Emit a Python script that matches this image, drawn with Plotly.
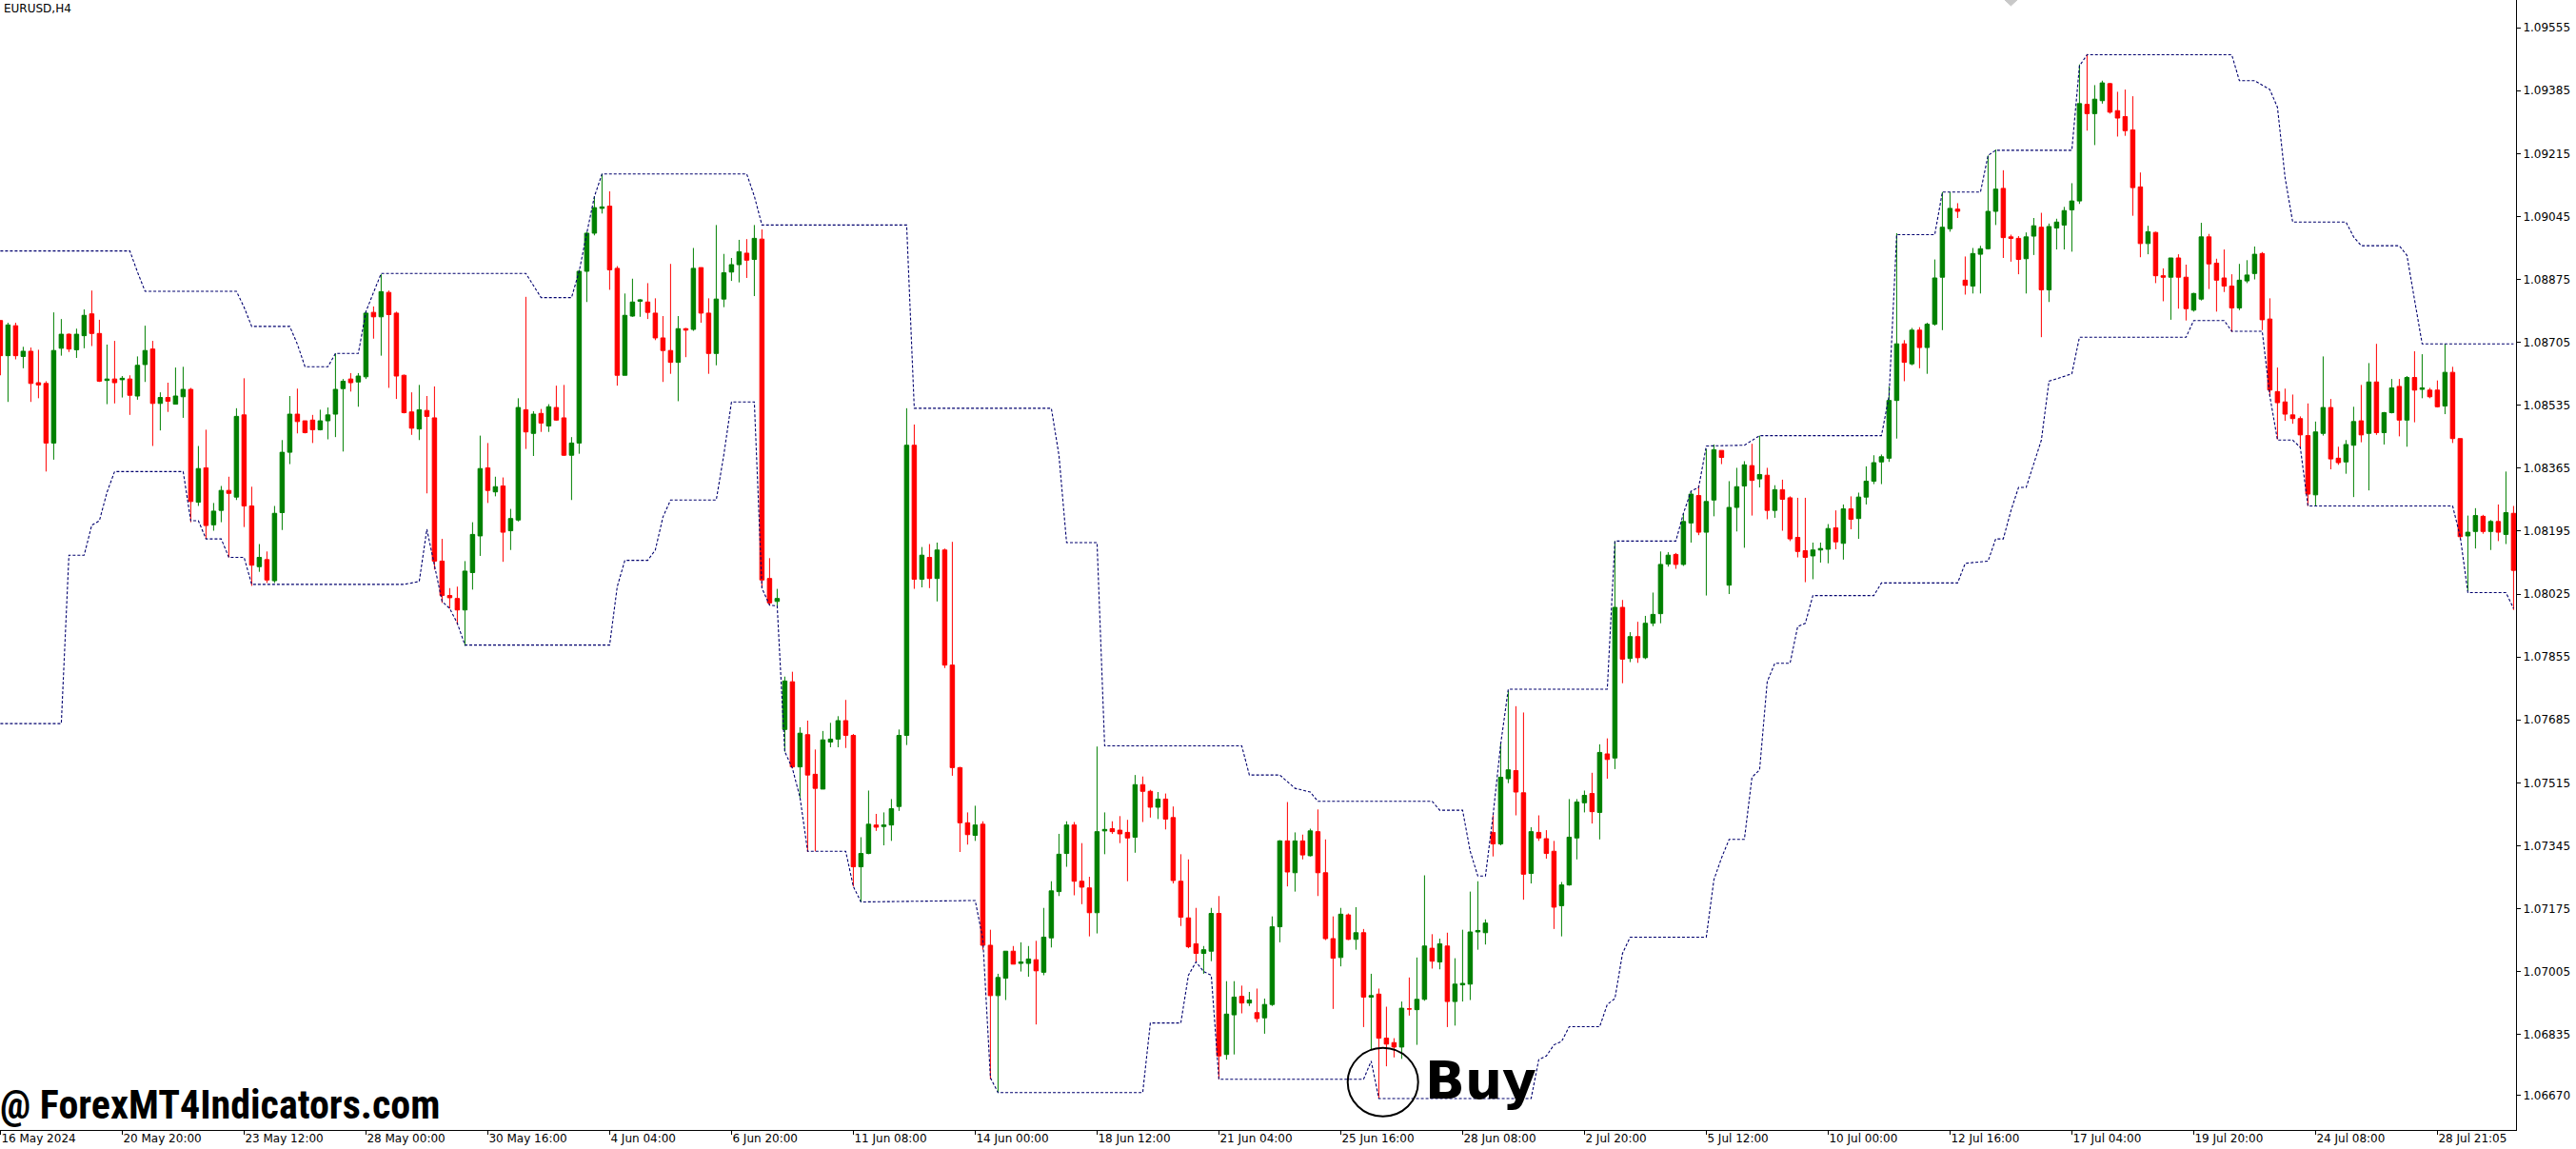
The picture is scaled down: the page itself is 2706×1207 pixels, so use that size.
import plotly.graph_objects as go

# ---------------- data (EURUSD H4, one entry per bar, left to right) ----------------
open_ = [
1.08764,1.08669,1.08750,1.08667,1.08681,1.08596,1.08594,1.08433,1.08689,1.08727,
1.08685,1.08723,1.08782,1.08729,1.08602,1.08606,1.08604,1.08606,1.08560,1.08645,
1.08687,1.08540,1.08556,1.08538,1.08558,1.08578,1.08273,1.08366,1.08212,1.08251,
1.08305,1.08287,1.08509,1.08263,1.08099,1.08118,1.08061,1.08245,1.08408,1.08511,
1.08493,1.08495,1.08469,1.08493,1.08511,1.08580,1.08606,1.08598,1.08612,1.08786,
1.08774,1.08840,1.08784,1.08616,1.08517,1.08471,1.08521,1.08501,1.08114,1.08021,
1.08013,1.07982,1.08083,1.08182,1.08366,1.08301,1.08317,1.08196,1.08225,1.08523,
1.08459,1.08513,1.08479,1.08529,1.08501,1.08400,1.08433,1.08897,1.09000,1.09067,
1.09073,1.08905,1.08616,1.08776,1.08816,1.08814,1.08784,1.08717,1.08683,1.08651,
1.08742,1.08740,1.08907,1.08784,1.08675,1.08822,1.08895,1.08915,1.08946,1.08929,
1.08984,1.08067,1.08005,1.07659,1.07788,1.07558,1.07645,1.07538,1.07498,1.07625,
1.07633,1.07683,1.07643,1.07288,1.07324,1.07401,1.07397,1.07401,1.07451,1.07643,
1.08427,1.08065,1.08124,1.08067,1.08144,1.07833,1.07556,1.07407,1.07373,1.07403,
1.07076,1.06940,1.06987,1.07060,1.07027,1.07027,1.07037,1.07003,1.07096,1.07221,
1.07324,1.07401,1.07249,1.07231,1.07164,1.07385,1.07391,1.07387,1.07381,1.07368,
1.07510,1.07492,1.07449,1.07471,1.07421,1.07249,1.07150,1.07080,1.07054,1.07060,
1.07162,1.06781,1.06888,1.06938,1.06920,1.06894,1.06880,1.06916,1.07126,1.07358,
1.07272,1.07358,1.07318,1.07383,1.07272,1.07094,1.07043,1.07158,1.07092,1.07110,
1.06936,1.06944,1.06825,1.06813,1.06801,1.06904,1.06902,1.06930,1.07068,1.07031,
1.07074,1.06924,1.06969,1.06971,1.07112,1.07110,1.07381,1.07350,1.07526,1.07548,
1.07488,1.07270,1.07381,1.07364,1.07330,1.07183,1.07239,1.07366,1.07461,1.07486,
1.07435,1.07593,1.07582,1.07989,1.07851,1.07910,1.07853,1.07946,1.07972,1.08106,
1.08132,1.08105,1.08217,1.08291,1.08192,1.08279,1.08413,1.08049,1.08259,1.08317,
1.08372,1.08336,1.08346,1.08251,1.08307,1.08285,1.08178,1.08142,1.08128,1.08144,
1.08146,1.08204,1.08162,1.08255,1.08229,1.08287,1.08330,1.08382,1.08392,1.08548,
1.08701,1.08647,1.08738,1.08691,1.08754,1.08881,1.09012,1.09065,1.08873,1.08857,
1.08943,1.08958,1.09059,1.09121,1.08990,1.08986,1.08931,1.08992,1.09016,1.08847,
1.09014,1.09022,1.09063,1.09087,1.09348,1.09323,1.09358,1.09404,1.09331,1.09315,
1.09279,1.09125,1.08972,1.09002,1.08885,1.08881,1.08933,1.08881,1.08792,1.08822,
1.08990,1.08919,1.08879,1.08857,1.08798,1.08871,1.08891,1.08945,1.08768,1.08572,
1.08544,1.08509,1.08499,1.08453,1.08293,1.08459,1.08529,1.08392,1.08382,1.08427,
1.08493,1.08459,1.08598,1.08461,1.08515,1.08586,1.08495,1.08610,1.08578,1.08576,
1.08576,1.08533,1.08624,1.08445,1.08182,1.08194,1.08235,1.08194,1.08221,1.08186,
1.08243]

high = [
1.08764,1.08758,1.08758,1.08693,1.08691,1.08685,1.08600,1.08786,1.08768,1.08729,
1.08742,1.08794,1.08845,1.08766,1.08699,1.08709,1.08614,1.08616,1.08667,1.08750,
1.08709,1.08570,1.08596,1.08637,1.08639,1.08582,1.08425,1.08469,1.08271,1.08317,
1.08342,1.08527,1.08608,1.08315,1.08160,1.08140,1.08263,1.08441,1.08560,1.08580,
1.08493,1.08509,1.08523,1.08529,1.08675,1.08606,1.08622,1.08622,1.08790,1.08802,
1.08889,1.08845,1.08788,1.08618,1.08570,1.08590,1.08560,1.08586,1.08174,1.08041,
1.08045,1.08114,1.08219,1.08453,1.08433,1.08342,1.08340,1.08255,1.08554,1.08828,
1.08519,1.08525,1.08538,1.08588,1.08590,1.08449,1.08901,1.09004,1.09099,1.09160,
1.09113,1.08911,1.08837,1.08877,1.08822,1.08865,1.08824,1.08776,1.08917,1.08776,
1.08744,1.08960,1.08907,1.08824,1.09022,1.08944,1.08933,1.08982,1.08984,1.09022,
1.09010,1.08122,1.08039,1.07802,1.07815,1.07665,1.07683,1.07605,1.07655,1.07677,
1.07695,1.07739,1.07647,1.07368,1.07494,1.07431,1.07435,1.07471,1.07659,1.08527,
1.08483,1.08152,1.08160,1.08164,1.08148,1.08166,1.07558,1.07435,1.07453,1.07411,
1.07118,1.06999,1.07060,1.07074,1.07084,1.07074,1.07088,1.07177,1.07249,1.07377,
1.07411,1.07409,1.07352,1.07261,1.07613,1.07435,1.07411,1.07425,1.07415,1.07536,
1.07532,1.07496,1.07490,1.07486,1.07451,1.07322,1.07308,1.07177,1.07074,1.07177,
1.07209,1.06979,1.06979,1.06967,1.06950,1.06959,1.06932,1.07154,1.07360,1.07463,
1.07381,1.07375,1.07391,1.07443,1.07362,1.07154,1.07177,1.07162,1.07179,1.07120,
1.06999,1.06959,1.06910,1.06825,1.06924,1.06989,1.07043,1.07265,1.07106,1.07094,
1.07110,1.07041,1.07118,1.07221,1.07249,1.07146,1.07427,1.07623,1.07764,1.07722,
1.07705,1.07395,1.07427,1.07387,1.07358,1.07247,1.07471,1.07471,1.07494,1.07542,
1.07619,1.07635,1.08168,1.08009,1.07922,1.07950,1.07966,1.08029,1.08140,1.08138,
1.08136,1.08243,1.08303,1.08319,1.08417,1.08429,1.08413,1.08330,1.08366,1.08384,
1.08431,1.08453,1.08366,1.08319,1.08334,1.08289,1.08285,1.08285,1.08164,1.08164,
1.08214,1.08251,1.08267,1.08289,1.08299,1.08370,1.08400,1.08402,1.08586,1.09000,
1.08711,1.08744,1.08746,1.08758,1.08929,1.09111,1.09111,1.09081,1.08937,1.08960,
1.08966,1.09210,1.09226,1.09170,1.08996,1.08992,1.09002,1.09041,1.09055,1.09026,
1.09039,1.09071,1.09135,1.09456,1.09484,1.09400,1.09412,1.09406,1.09382,1.09388,
1.09370,1.09164,1.09020,1.09004,1.08905,1.08933,1.08943,1.08915,1.08839,1.09028,
1.08998,1.08931,1.08956,1.08889,1.08917,1.08927,1.08964,1.08949,1.08824,1.08637,
1.08580,1.08564,1.08505,1.08540,1.08491,1.08667,1.08552,1.08423,1.08441,1.08531,
1.08590,1.08649,1.08701,1.08517,1.08606,1.08606,1.08614,1.08681,1.08673,1.08582,
1.08602,1.08701,1.08639,1.08445,1.08237,1.08257,1.08239,1.08225,1.08267,1.08356,
1.08263]

low = [
1.08616,1.08544,1.08659,1.08635,1.08544,1.08554,1.08356,1.08388,1.08669,1.08679,
1.08663,1.08689,1.08695,1.08598,1.08538,1.08540,1.08556,1.08509,1.08550,1.08598,
1.08425,1.08467,1.08517,1.08538,1.08501,1.08219,1.08263,1.08174,1.08196,1.08219,
1.08124,1.08279,1.08206,1.08047,1.08085,1.08055,1.08055,1.08198,1.08376,1.08459,
1.08459,1.08433,1.08467,1.08443,1.08449,1.08410,1.08572,1.08531,1.08606,1.08715,
1.08669,1.08582,1.08552,1.08513,1.08455,1.08441,1.08297,1.08091,1.08001,1.07986,
1.07942,1.07885,1.08037,1.08128,1.08271,1.08289,1.08112,1.08144,1.08221,1.08417,
1.08398,1.08463,1.08463,1.08493,1.08398,1.08279,1.08404,1.08814,1.08994,1.09053,
1.08847,1.08588,1.08616,1.08774,1.08774,1.08768,1.08711,1.08598,1.08620,1.08546,
1.08665,1.08736,1.08758,1.08620,1.08643,1.08800,1.08871,1.08867,1.08879,1.08830,
1.08041,1.07995,1.07993,1.07599,1.07554,1.07475,1.07328,1.07330,1.07498,1.07611,
1.07611,1.07609,1.07235,1.07193,1.07322,1.07385,1.07346,1.07358,1.07439,1.07617,
1.08039,1.08043,1.08041,1.08005,1.07825,1.07534,1.07328,1.07348,1.07358,1.07064,
1.06714,1.06678,1.06928,1.07025,1.07005,1.06991,1.06862,1.06995,1.07070,1.07209,
1.07288,1.07211,1.07187,1.07100,1.07108,1.07322,1.07377,1.07352,1.07249,1.07326,
1.07409,1.07421,1.07417,1.07389,1.07243,1.07128,1.07068,1.07031,1.06999,1.07033,
1.06714,1.06767,1.06781,1.06892,1.06912,1.06868,1.06837,1.06912,1.07084,1.07235,
1.07221,1.07308,1.07316,1.07209,1.07090,1.06904,1.07019,1.07090,1.07064,1.06855,
1.06793,1.06662,1.06749,1.06773,1.06769,1.06886,1.06807,1.06926,1.07013,1.07011,
1.06855,1.06859,1.06924,1.06928,1.07064,1.07078,1.07316,1.07346,1.07514,1.07427,
1.07199,1.07243,1.07358,1.07310,1.07120,1.07100,1.07237,1.07308,1.07435,1.07405,
1.07362,1.07526,1.07552,1.07784,1.07841,1.07839,1.07849,1.07938,1.07946,1.08099,
1.08093,1.08101,1.08164,1.08184,1.08021,1.08235,1.08376,1.08025,1.08194,1.08150,
1.08237,1.08313,1.08227,1.08231,1.08196,1.08168,1.08124,1.08057,1.08065,1.08110,
1.08108,1.08146,1.08118,1.08200,1.08174,1.08267,1.08322,1.08322,1.08382,1.08445,
1.08600,1.08643,1.08635,1.08620,1.08750,1.08738,1.09004,1.09041,1.08834,1.08837,
1.08837,1.08956,1.09022,1.08933,1.08923,1.08889,1.08837,1.08941,1.08719,1.08814,
1.08956,1.08956,1.08950,1.09079,1.09277,1.09238,1.09350,1.09323,1.09261,1.09263,
1.09047,1.08935,1.08943,1.08865,1.08816,1.08766,1.08796,1.08764,1.08788,1.08818,
1.08849,1.08788,1.08841,1.08733,1.08792,1.08865,1.08875,1.08738,1.08560,1.08443,
1.08493,1.08485,1.08421,1.08263,1.08263,1.08453,1.08362,1.08374,1.08350,1.08287,
1.08435,1.08305,1.08455,1.08429,1.08513,1.08451,1.08423,1.08489,1.08554,1.08554,
1.08529,1.08511,1.08433,1.08172,1.08033,1.08148,1.08188,1.08144,1.08168,1.08160,
1.07982]

close = [
1.08669,1.08752,1.08669,1.08681,1.08594,1.08590,1.08433,1.08683,1.08727,1.08687,
1.08727,1.08778,1.08729,1.08600,1.08606,1.08596,1.08608,1.08562,1.08643,1.08683,
1.08540,1.08556,1.08546,1.08560,1.08578,1.08275,1.08364,1.08210,1.08249,1.08305,
1.08297,1.08505,1.08263,1.08103,1.08124,1.08063,1.08243,1.08408,1.08511,1.08491,
1.08461,1.08469,1.08493,1.08509,1.08578,1.08600,1.08596,1.08614,1.08784,1.08774,
1.08842,1.08780,1.08614,1.08515,1.08473,1.08523,1.08505,1.08114,1.08021,1.08015,
1.07982,1.08087,1.08186,1.08364,1.08305,1.08315,1.08192,1.08229,1.08529,1.08463,
1.08511,1.08487,1.08531,1.08495,1.08400,1.08433,1.08897,1.09000,1.09069,1.09071,
1.08901,1.08616,1.08778,1.08814,1.08820,1.08786,1.08717,1.08683,1.08651,1.08742,
1.08738,1.08905,1.08784,1.08675,1.08822,1.08893,1.08915,1.08950,1.08927,1.08986,
1.08063,1.08001,1.08013,1.07790,1.07558,1.07649,1.07536,1.07500,1.07631,1.07633,
1.07683,1.07643,1.07288,1.07324,1.07403,1.07395,1.07401,1.07445,1.07643,1.08427,
1.08065,1.08130,1.08067,1.08144,1.07833,1.07556,1.07407,1.07375,1.07401,1.07076,
1.06940,1.06989,1.07060,1.07025,1.07031,1.07039,1.07007,1.07098,1.07223,1.07322,
1.07401,1.07249,1.07233,1.07164,1.07383,1.07389,1.07383,1.07377,1.07366,1.07510,
1.07492,1.07449,1.07471,1.07417,1.07251,1.07152,1.07072,1.07054,1.07064,1.07162,
1.06777,1.06890,1.06936,1.06920,1.06928,1.06878,1.06916,1.07126,1.07358,1.07274,
1.07358,1.07320,1.07385,1.07272,1.07094,1.07041,1.07160,1.07092,1.07110,1.06936,
1.06940,1.06825,1.06809,1.06801,1.06906,1.06904,1.06930,1.07074,1.07033,1.07080,
1.06924,1.06971,1.06973,1.07112,1.07116,1.07136,1.07350,1.07530,1.07550,1.07490,
1.07268,1.07383,1.07366,1.07324,1.07179,1.07239,1.07368,1.07463,1.07481,1.07437,
1.07597,1.07578,1.07989,1.07849,1.07910,1.07853,1.07946,1.07970,1.08105,1.08130,
1.08105,1.08221,1.08295,1.08192,1.08275,1.08415,1.08394,1.08259,1.08315,1.08374,
1.08332,1.08348,1.08251,1.08307,1.08281,1.08174,1.08140,1.08124,1.08144,1.08148,
1.08202,1.08166,1.08255,1.08227,1.08287,1.08330,1.08380,1.08396,1.08548,1.08701,
1.08651,1.08738,1.08691,1.08754,1.08879,1.09016,1.09067,1.09059,1.08859,1.08945,
1.08958,1.09059,1.09119,1.08988,1.08986,1.08929,1.08990,1.09020,1.08847,1.09018,
1.09030,1.09061,1.09087,1.09350,1.09323,1.09362,1.09406,1.09327,1.09311,1.09277,
1.09123,1.08972,1.09004,1.08885,1.08881,1.08933,1.08881,1.08796,1.08837,1.08990,
1.08917,1.08873,1.08857,1.08798,1.08873,1.08887,1.08943,1.08766,1.08576,1.08542,
1.08511,1.08499,1.08455,1.08295,1.08463,1.08529,1.08390,1.08380,1.08429,1.08491,
1.08455,1.08598,1.08461,1.08515,1.08582,1.08495,1.08610,1.08576,1.08582,1.08558,
1.08531,1.08624,1.08445,1.08180,1.08192,1.08237,1.08194,1.08221,1.08192,1.08245,
1.08089]

bar_index = list(range(len(close)))

# channel indicator (upper / lower band), sampled at the bars where it changes
upper_idx = [0,17,18,19,31,32,33,38,39,40,43,44,47,48,49,50,69,70,71,75,76,77,78,79,98,99,100,
             119,120,138,139,140,144,145,163,164,168,170,172,173,188,189,192,193,194,195,196,197,198,
             211,212,220,221,222,223,224,229,231,247,248,249,254,255,260,261,262,272,273,274,
             293,294,296,298,299,300,301,308,309,310,315,316,317,318,330]
upper_val = [1.08952,1.08952,1.08895,1.08843,1.08843,1.08800,1.08748,1.08748,1.08700,1.08639,
             1.08639,1.08675,1.08675,1.08788,1.08840,1.08891,1.08891,1.08858,1.08826,1.08826,
             1.08897,1.09000,1.09099,1.09160,1.09160,1.09100,1.09022,1.09022,1.08527,1.08527,
             1.08400,1.08164,1.08164,1.07615,1.07615,1.07536,1.07536,1.07500,1.07490,1.07465,
             1.07465,1.07441,1.07441,1.07330,1.07263,1.07263,1.07427,1.07619,1.07768,1.07768,
             1.08168,1.08168,1.08243,1.08303,1.08313,1.08425,1.08427,1.08453,1.08453,1.08560,
             1.08996,1.08996,1.09111,1.09111,1.09210,1.09224,1.09224,1.09452,1.09482,1.09482,
             1.09412,1.09412,1.09388,1.09340,1.09150,1.09030,1.09030,1.08990,1.08966,1.08966,
             1.08940,1.08820,1.08701,1.08701]

lower_idx = [0,8,9,11,12,13,14,15,24,25,26,27,29,30,32,33,53,55,56,57,58,59,60,61,80,81,82,85,86,87,88,
             94,95,96,99,100,101,102,103,104,105,106,111,112,113,128,129,130,131,150,151,155,156,157,
             158,159,160,179,180,181,201,202,203,204,205,206,210,211,212,213,214,224,225,226,227,229,
             230,231,232,233,235,236,237,238,246,247,257,258,261,262,263,264,265,266,267,268,269,272,
             273,287,288,292,293,297,298,299,301,302,303,322,323,324,329,330]
lower_val = [1.07675,1.07675,1.08130,1.08130,1.08211,1.08223,1.08300,1.08356,1.08356,1.08223,
             1.08223,1.08174,1.08174,1.08124,1.08124,1.08051,1.08051,1.08059,1.08200,1.08105,
             1.08005,1.07986,1.07946,1.07887,1.07887,1.08045,1.08116,1.08116,1.08144,1.08233,
             1.08279,1.08279,1.08402,1.08544,1.08544,1.08041,1.07995,1.07993,1.07599,1.07554,
             1.07475,1.07330,1.07330,1.07235,1.07193,1.07197,1.07094,1.06718,1.06678,1.06678,
             1.06866,1.06866,1.06995,1.07031,1.07005,1.06995,1.06714,1.06714,1.06763,1.06662,
             1.06662,1.06767,1.06777,1.06807,1.06816,1.06856,1.06856,1.06916,1.06932,1.07054,
             1.07098,1.07098,1.07253,1.07312,1.07362,1.07362,1.07530,1.07550,1.07788,1.07838,
             1.07838,1.07937,1.07946,1.08021,1.08021,1.08055,1.08055,1.08108,1.08114,1.08174,
             1.08174,1.08250,1.08313,1.08313,1.08380,1.08441,1.08600,1.08620,1.08719,1.08719,
             1.08764,1.08764,1.08735,1.08735,1.08560,1.08441,1.08441,1.08421,1.08263,1.08263,
             1.08180,1.08029,1.08029,1.07986]

x_tick_bars = [0,16,32,48,64,80,96,112,128,144,160,176,192,208,224,240,256,272,288,304,320]
x_tick_labels = ["16 May 2024","20 May 20:00","23 May 12:00","28 May 00:00","30 May 16:00",
                 "4 Jun 04:00","6 Jun 20:00","11 Jun 08:00","14 Jun 00:00","18 Jun 12:00",
                 "21 Jun 04:00","25 Jun 16:00","28 Jun 08:00","2 Jul 20:00","5 Jul 12:00",
                 "10 Jul 00:00","12 Jul 16:00","17 Jul 04:00","19 Jul 20:00","24 Jul 08:00",
                 "28 Jul 21:05"]
y_tick_values = [1.09555,1.09385,1.09215,1.09045,1.08875,1.08705,1.08535,1.08365,1.08195,
                 1.08025,1.07855,1.07685,1.07515,1.07345,1.07175,1.07005,1.06835,1.06670]
y_tick_labels = ["%.5f" % v for v in y_tick_values]

assert len(open_) == len(high) == len(low) == len(close)
assert len(upper_idx) == len(upper_val) and len(lower_idx) == len(lower_val)

# ---------------- figure ----------------
fig = go.Figure()

fig.add_trace(go.Candlestick(
    x=bar_index, open=open_, high=high, low=low, close=close,
    increasing=dict(line=dict(color="#008000", width=1), fillcolor="#008000"),
    decreasing=dict(line=dict(color="#FF0000", width=1), fillcolor="#FF0000"),
    whiskerwidth=0, showlegend=False, hoverinfo="skip",
))

band_line = dict(color="#00006E", width=1.1, dash="3px,2px")
fig.add_trace(go.Scatter(x=upper_idx, y=upper_val, mode="lines", line=band_line,
                         showlegend=False, hoverinfo="skip"))
fig.add_trace(go.Scatter(x=lower_idx, y=lower_val, mode="lines", line=band_line,
                         showlegend=False, hoverinfo="skip"))

fig.update_layout(
    width=2706, height=1207,
    margin=dict(l=0, r=63, t=0, b=20),
    paper_bgcolor="white", plot_bgcolor="white",
    font=dict(family="DejaVu Sans", size=12, color="black"),
    showlegend=False, hovermode=False,
    boxgap=0.25, boxgroupgap=0.25,
    xaxis=dict(
        range=[-0.05, 330.325], showgrid=False, zeroline=False,
        showline=True, linecolor="black", linewidth=1,
        ticks="outside", ticklen=4, tickcolor="black", tickwidth=1,
        tickmode="array", tickvals=x_tick_bars, ticktext=x_tick_labels,
        ticklabelposition="outside right", ticklabelstandoff=-2,
        tickfont=dict(family="DejaVu Sans", size=12, color="black"),
        rangeslider=dict(visible=False), automargin=False, fixedrange=True,
    ),
    yaxis=dict(
        side="right", range=[1.06577, 1.09630], showgrid=False, zeroline=False,
        showline=True, linecolor="black", linewidth=1,
        ticks="outside", ticklen=4, tickcolor="black", tickwidth=1,
        tickmode="array", tickvals=y_tick_values, ticktext=y_tick_labels,
        tickfont=dict(family="DejaVu Sans", size=12, color="#000000"),
        automargin=False, fixedrange=True,
    ),
)

# symbol / timeframe caption
fig.add_annotation(text="EURUSD,H4", xref="paper", yref="paper", x=0, y=1,
                   xanchor="left", yanchor="top", xshift=2, yshift=0, showarrow=False,
                   font=dict(family="DejaVu Sans", size=12, color="black"))

# watermark
fig.add_annotation(text="@ ForexMT4Indicators.com", xref="paper", yref="paper", x=0, y=0,
                   xanchor="left", yanchor="bottom", xshift=-2, yshift=0, showarrow=False,
                   font=dict(family="Liberation Sans Narrow, Roboto Condensed, Arial Narrow, sans-serif",
                             size=42, color="black", weight="bold"))

# Buy signal marker
fig.add_annotation(text="Buy", xref="x", yref="y", x=186.8, y=1.06711,
                   xanchor="left", yanchor="middle", showarrow=False,
                   font=dict(family="DejaVu Sans", size=55, color="black", weight="bold"))
fig.add_shape(type="circle", xref="x", yref="y", xsizemode="pixel", ysizemode="pixel",
              xanchor=181.54, yanchor=1.06706, x0=-37, x1=37, y0=-36, y1=36,
              line=dict(color="black", width=2))

# chart-shift marker at the top
fig.add_shape(type="path", xref="paper", yref="paper",
              path="M 0.7968 1 L 0.8017 1 L 0.79925 0.99495 Z",
              fillcolor="#C8C8C8", line=dict(color="#C8C8C8", width=1))

fig.write_html("out.html",
               config={"displayModeBar": False, "staticPlot": True},
               post_script="document.body.style.margin='0px';document.body.style.overflow='hidden';")
